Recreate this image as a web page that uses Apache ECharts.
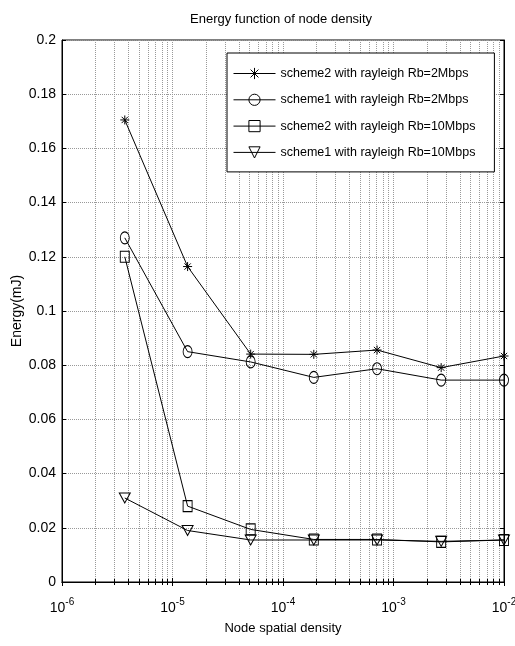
<html>
<head>
    <meta http-equiv="Content-Type" content="text/html; charset=utf-8" />
</head>
<script type="text/javascript" src="https://cdn.jsdelivr.net/npm/echarts@6/dist/echarts.min.js"></script>
<body style="margin:0">
<div id="main" style="width: 515px;height:646px;"></div>
</body>
<script type="text/javascript">
    // node spatial density (x positions of the points)
    var density = [3.7e-6, 1.37e-5, 5.1e-5, 1.9e-4, 7.1e-4, 2.7e-3, 1e-2];
    var s2_2M  = [0.1705, 0.1164, 0.0841, 0.0840, 0.0856, 0.0791, 0.0834];
    var s1_2M  = [0.1270, 0.0850, 0.0812, 0.0755, 0.0787, 0.0745, 0.0745];
    var s2_10M = [0.1200, 0.0280, 0.0194, 0.0157, 0.0157, 0.0148, 0.0155];
    var s1_10M = [0.0310, 0.0190, 0.0155, 0.0155, 0.0155, 0.0150, 0.0155];
    var names = [
        'scheme2 with rayleigh Rb=2Mbps',
        'scheme1 with rayleigh Rb=2Mbps',
        'scheme2 with rayleigh Rb=10Mbps',
        'scheme1 with rayleigh Rb=10Mbps'
    ];

    var font = 'Liberation Sans, Arial, sans-serif';
    var star = 'path://M0,-5L0,5M-5,0L5,0M-3.5,-3.5L3.5,3.5M-3.5,3.5L3.5,-3.5';
    var gridLine = {type: 'dotted', color: '#999', width: 1};

    function pairs(ys) {
        return density.map(function (x, i) { return [x, ys[i]]; });
    }

    function mkSeries(name, ys, symbol, size, rotate) {
        return {
            name: name,
            type: 'line',
            data: pairs(ys),
            symbol: symbol,
            symbolSize: size,
            symbolRotate: rotate || 0,
            showAllSymbol: true,
            lineStyle: {color: '#000', width: 1},
            itemStyle: {color: 'rgba(255,255,255,0)', borderColor: '#000', borderWidth: 1},
            emphasis: {disabled: true},
            animation: false
        };
    }

    var series = [
        mkSeries(names[0], s2_2M, star, 9),
        mkSeries(names[1], s1_2M, 'circle', [9, 12]),
        mkSeries(names[2], s2_10M, 'rect', [9, 11]),
        mkSeries(names[3], s1_10M, 'triangle', [11, 10], 180)
    ];

    var myChart = echarts.init(document.getElementById('main'));
    var option = {
        backgroundColor: '#fff',
        animation: false,
        title: {
            text: 'Energy function of node density',
            left: 190,
            top: 13,
            padding: 0,
            textStyle: {fontFamily: font, fontSize: 13, fontWeight: 'normal', color: '#000'}
        },
        grid: {
            left: 62, right: 11, top: 40, bottom: 64,
            outerBoundsMode: 'none',
            show: true, borderColor: '#000', borderWidth: 1, backgroundColor: '#fff'
        },
        legend: {
            data: names,
            orient: 'vertical',
            left: 227,
            top: 53,
            padding: [14, 19, 13, 6],
            itemWidth: 42,
            itemHeight: 14,
            itemGap: 13.3,
            borderColor: '#000',
            borderWidth: 1,
            backgroundColor: '#fff',
            lineStyle: {width: 1, color: '#000'},
            itemStyle: {borderWidth: 1, borderColor: '#000', color: 'rgba(255,255,255,0)'},
            textStyle: {fontFamily: font, fontSize: 12.5, color: '#000'}
        },
        xAxis: [{
            type: 'log',
            min: 1e-6,
            max: 1e-2,
            logBase: 10,
            name: 'Node spatial density',
            nameLocation: 'middle',
            nameGap: 40,
            nameTextStyle: {fontFamily: font, fontSize: 13, color: '#000'},
            axisLine: {lineStyle: {color: '#000', width: 1}},
            axisTick: {inside: true, length: 4, lineStyle: {color: '#000'}},
            minorTick: {show: true, splitNumber: 9, length: 3, lineStyle: {color: '#000'}},
            splitLine: {show: true, lineStyle: gridLine},
            minorSplitLine: {show: true, lineStyle: gridLine},
            axisLabel: {
                margin: 15,
                formatter: function (v) {
                    return '{b|10}{s|' + Math.round(Math.log10(v)) + '}';
                },
                rich: {
                    b: {fontFamily: font, fontSize: 14, color: '#000'},
                    s: {fontFamily: font, fontSize: 10, color: '#000', verticalAlign: 'bottom', padding: [0, 0, 12, 0]}
                }
            }
        }, {
            type: 'log',
            min: 1e-6,
            max: 1e-2,
            position: 'top',
            axisLine: {lineStyle: {color: '#000', width: 1}},
            axisTick: {inside: true, length: 4, lineStyle: {color: '#000'}},
            minorTick: {show: true, splitNumber: 9, length: 3, lineStyle: {color: '#000'}},
            axisLabel: {show: false},
            splitLine: {show: false}
        }],
        yAxis: [{
            type: 'value',
            min: 0,
            max: 0.2,
            interval: 0.02,
            name: 'Energy(mJ)',
            nameLocation: 'middle',
            nameGap: 38,
            nameMoveOverlap: false,
            nameTextStyle: {fontFamily: font, fontSize: 14, color: '#000'},
            axisLine: {show: true, lineStyle: {color: '#000', width: 1}},
            axisTick: {show: true, inside: true, length: 4, lineStyle: {color: '#000'}},
            splitLine: {show: true, lineStyle: gridLine},
            axisLabel: {
                margin: 6,
                fontFamily: font,
                fontSize: 14,
                color: '#000',
                formatter: function (v) { return String(+v.toFixed(2)); }
            }
        }, {
            type: 'value',
            min: 0,
            max: 0.2,
            interval: 0.02,
            position: 'right',
            axisLine: {show: true, lineStyle: {color: '#000', width: 1}},
            axisTick: {show: true, inside: true, length: 4, lineStyle: {color: '#000'}},
            axisLabel: {show: false},
            splitLine: {show: false}
        }],
        series: series
    };
    myChart.setOption(option);
</script>
</html>
